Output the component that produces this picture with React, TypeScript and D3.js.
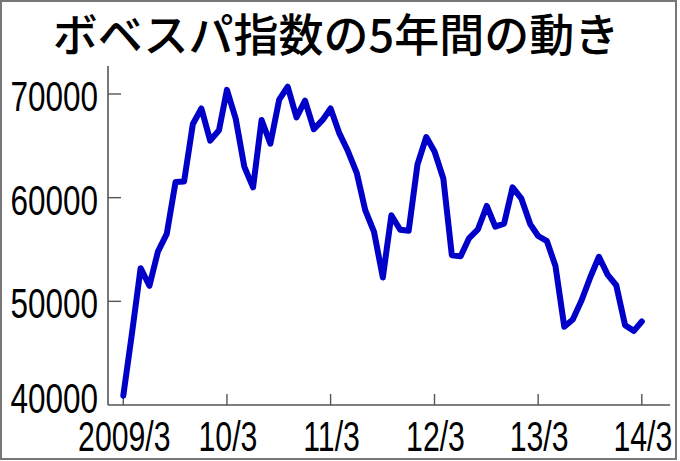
import React from "react";
import * as d3 from "d3";

const title = "ボベスパ指数の5年間の動き";
const startMonth = new Date(2009, 2, 1);
const values = [
  40900, 47000, 53200, 51500, 54800, 56500, 61500, 61550, 67100, 68600,
  65500, 66500, 70400, 67600, 63000, 61000, 67500, 65200, 69450, 70700,
  67750, 69350, 66600, 67500, 68600, 66200, 64500, 62400, 58800, 56700,
  52300, 58300, 56900, 56800, 63200, 65850, 64450, 61850, 54450, 54350,
  56100, 56950, 59200, 57200, 57500, 61000, 59900, 57450, 56300, 55800,
  53400, 47550, 48250, 50100, 52350, 54300, 52550, 51550, 47700, 47150,
  48050,
];
const yTicks = [40000, 50000, 60000, 70000];
const xTickDates = [2009, 2010, 2011, 2012, 2013, 2014].map((y) => new Date(y, 2, 1));
const xTickLabels = ["2009/3", "10/3", "11/3", "12/3", "13/3", "14/3"];

const W = 680;
const H = 461;

export default function App() {
  const dates = values.map((_, i) => d3.timeMonth.offset(startMonth, i));
  const x = d3.scaleTime().domain([new Date(2009, 2, 1), new Date(2014, 2, 1)]).range([123.3, 641.8]);
  const y = d3.scaleLinear().domain([40000, 70000]).range([405, 94]);
  const line = d3
    .line<number>()
    .x((_, i) => x(dates[i]))
    .y((d) => y(d));

  const axisColor = "#555";
  return (
    <svg width={W} height={H} style={{ position: "absolute", left: 0, top: 0, background: "#fff" }}>
      <rect x={1} y={1} width={675} height={458} fill="#fff" stroke="#777" strokeWidth={2} />
      <text
        x={336}
        y={52}
        textAnchor="middle"
        fontFamily="'Noto Sans CJK JP', sans-serif"
        fontWeight={500}
        fontSize={45}
        fill="#000"
      >
        {title}
      </text>
      {/* axes */}
      <line x1={108} x2={108} y1={66} y2={405} stroke={axisColor} strokeWidth={1.6} />
      <line x1={108} x2={670} y1={405} y2={405} stroke={axisColor} strokeWidth={1.6} />
      {yTicks.map((t) => (
        <g key={t}>
          {t !== 40000 && (
            <line x1={108} x2={121} y1={y(t)} y2={y(t)} stroke={axisColor} strokeWidth={1.4} />
          )}
          <g transform={`translate(98,${(t === 40000 ? y(t) - 7 : y(t) + 2) + 15}) scale(0.75,1)`}>
            <text textAnchor="end" fontFamily="'Liberation Sans', Arial, sans-serif" fontSize={42} fill="#000">
              {d3.format("d")(t)}
            </text>
          </g>
        </g>
      ))}
      {xTickDates.map((d, i) => (
        <g key={i}>
          <line x1={x(d)} x2={x(d)} y1={405} y2={394} stroke={axisColor} strokeWidth={1.4} />
          <g transform={`translate(${x(d) + 1},451) scale(0.72,1)`}>
            <text textAnchor="middle" fontFamily="'Liberation Sans', Arial, sans-serif" fontSize={42} fill="#000">
              {xTickLabels[i]}
            </text>
          </g>
        </g>
      ))}
      <path
        d={line(values) || ""}
        fill="none"
        stroke="#0000c8"
        strokeWidth={6}
        strokeLinejoin="round"
        strokeLinecap="round"
      />
    </svg>
  );
}
